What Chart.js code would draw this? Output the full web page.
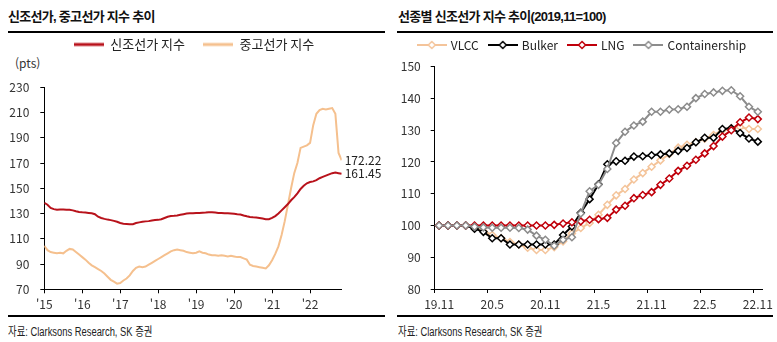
<!DOCTYPE html>
<html lang="ko">
<head>
<meta charset="utf-8">
<script src="https://cdn.jsdelivr.net/npm/chart.js@4.4.1/dist/chart.umd.min.js"></script>
<style>
    html, body { margin: 0; padding: 0; background: #fff; }
    #page { position: relative; width: 777px; height: 342px; overflow: hidden; color: #222;
            font-family: 'Noto Sans CJK KR', sans-serif; }
    .title { position: absolute; top: 7px; line-height: 20px; font-size: 13px; font-weight: bold; white-space: nowrap;
             letter-spacing: -0.7px; font-family: 'Liberation Sans', 'Noto Sans CJK KR', sans-serif; color: #111; }
    .title .num { letter-spacing: -0.7px; }
    .rule { position: absolute; height: 2px; background: #000; }
    .source { position: absolute; top: 324px; line-height: 16px; font-size: 12.5px; white-space: nowrap;
              transform: scaleX(0.75); transform-origin: left center;
              font-family: 'Liberation Sans', 'Noto Sans CJK KR', sans-serif; color: #222; }
    .unit { position: absolute; left: 15px; top: 56px; line-height: 14px; font-size: 12px; color: #333; }
    canvas { position: absolute; }
</style>
</head>
<body>
<div id="page">
    <div class="title" style="left: 8px;">신조선가, 중고선가 지수 추이</div>
    <div class="rule" style="left: 8px; top: 31px; width: 377px;"></div>
    <div class="title" style="left: 398px;">선종별 신조선가 지수 추이<span class="num">(2019,11=100)</span></div>
    <div class="rule" style="left: 397px; top: 31px; width: 376px;"></div>

    <div class="unit">(pts)</div>
    <canvas id="priceChart" width="388" height="294" style="left: 0; top: 20px;"></canvas>
    <canvas id="typeChart" width="389" height="286" style="left: 388px; top: 28px;"></canvas>

    <div class="rule" style="left: 8px; top: 315px; width: 377px;"></div>
    <div class="rule" style="left: 397px; top: 315px; width: 376px;"></div>
    <div class="source" style="left: 8px;">자료: Clarksons Research, SK 증권</div>
    <div class="source" style="left: 398px;">자료: Clarksons Research, SK 증권</div>
</div>

<script>
    // Left chart: monthly index, Jan 2015 .. Nov 2022
    const startYear = 2015;
    const yearLabels = ["'15", "'16", "'17", "'18", "'19", "'20", "'21", "'22"];
    const newbuildIndex = [
        138.5, 137, 134.5, 133.5, 133, 133.2, 133.2, 133, 133, 132.5, 131.8, 131.3,
        131, 130.8, 130.5, 130.2, 129.5, 127.5, 126.5, 125.8, 125.2, 124.8, 124.2, 123.5,
        122.5, 122, 121.8, 121.5, 121.5, 122.5, 123, 123.5, 123.8, 124, 124.5, 124.8,
        125, 125.5, 126.5, 127.5, 128, 128.2, 128.5, 129, 129.5, 130, 130.2, 130.3,
        130.5, 130.5, 130.7, 130.8, 131, 131, 130.8, 130.5, 130.5, 130.3, 130.2, 130,
        129.8, 129.5, 129.3, 128.5, 127.8, 127.3, 127, 126.8, 126.5, 126, 125.5, 125.5,
        126.5, 128, 130, 132.5, 135, 137.5, 140.5, 143, 146, 149.5, 152, 154,
        155, 155.5, 156.5, 158, 159, 160, 161, 162, 162.5, 162, 161.45
    ];
    const secondhandIndex = [
        104.5, 101, 99.5, 99, 98.5, 99, 98.5, 100.5, 102, 101.5, 99.5, 97.5,
        95.5, 93.5, 91, 89, 87.5, 86, 84.5, 82.5, 80, 77.5, 76, 74.5,
        75, 77, 78.5, 81, 84.5, 87, 88, 87.5, 88, 89.5, 91, 92.5,
        94, 95.5, 97, 98.5, 100, 101, 101.5, 101, 100.5, 99.5, 99, 98.5,
        99, 100, 99, 98.5, 97.5, 97, 97, 96.5, 97, 96.5, 96, 96.5,
        96, 95.5, 95.5, 94.5, 93.5, 89.5, 88.5, 88, 87.5, 87, 86.5, 89,
        93, 98, 104, 113, 124, 137, 150, 162, 170, 182, 183, 184,
        186, 200, 209, 212, 213, 212.5, 213, 213.5, 209, 178, 172.22
    ];

    // Right chart: by ship type, 2019.11 = 100
    const monthLabels = [
        '19.11', '19.12',
        '20.1', '20.2', '20.3', '20.4', '20.5', '20.6', '20.7', '20.8', '20.9', '20.10', '20.11', '20.12',
        '21.1', '21.2', '21.3', '21.4', '21.5', '21.6', '21.7', '21.8', '21.9', '21.10', '21.11', '21.12',
        '22.1', '22.2', '22.3', '22.4', '22.5', '22.6', '22.7', '22.8', '22.9', '22.10', '22.11'
    ];
    const vlcc = [
        100, 100, 100, 100, 99.5, 98.3, 97, 96, 94.8, 94, 93, 92.3, 92.3, 93.2, 95, 97.5, 99.2, 100.8,
        103.4, 106.5, 109.5, 111.5, 114.5, 116.5, 118.5, 120.5, 122.5, 124.5, 125.4, 126.2, 127.3,
        128.5, 130, 130.6, 131, 130.4, 130.4
    ];
    const bulker = [
        100, 100, 100, 100, 99, 98, 96, 96, 94, 94, 94, 94, 94, 94, 97, 99.7, 104, 108.3,
        113, 119.3, 120.2, 120.4, 121.7, 121.8, 122.1, 122.4, 122.7, 123.5, 124.4, 126.2, 127.6,
        127.6, 130.4, 130.6, 129.1, 127.4, 126.4
    ];
    const lng = [
        100, 100, 100, 100, 100, 100, 100, 100, 100, 100, 100, 100, 100, 100.2, 100.6, 101, 101.3, 101.8,
        102, 102.4, 105, 106.2, 108.6, 109.6, 110.5, 112.8, 114.8, 117.2, 118.8, 120.7, 122.7,
        125, 128, 130, 132.5, 134, 133.5
    ];
    const containership = [
        100, 100, 100, 100, 99.6, 99.4, 99.3, 99.3, 99.3, 99.2, 98.7, 96.8, 95.5, 93.6, 95.5, 96.3, 103.8, 110.8,
        112.8, 117.8, 126, 129.5, 131.5, 132.7, 135.8, 135.8, 136.5, 136.6, 137.4, 140.1, 141.4,
        141.9, 142.4, 142.6, 140.7, 137.4, 135.8
    ];

    const COLORS = {
        newbuild: '#B8121B',
        secondhand: '#F5C08E',
        vlcc: '#F4C49A',
        bulker: '#000000',
        lng: '#C0000B',
        containership: '#8C8C8C'
    };

    Chart.defaults.font.family = "'Noto Sans CJK KR', sans-serif";
    Chart.defaults.font.size = 12;
    Chart.defaults.color = '#333';

    // small canvas used as the legend sample (line, optional diamond)
    function legendIcon(color, width, lineWidth, withMarker) {
        const c = document.createElement('canvas');
        c.width = width;
        c.height = 10;
        const g = c.getContext('2d');
        g.strokeStyle = color;
        g.lineWidth = lineWidth;
        g.beginPath();
        g.moveTo(0, 5);
        g.lineTo(width, 5);
        g.stroke();
        if (withMarker) {
            const m = width / 2;
            g.fillStyle = '#fff';
            g.lineWidth = 1.5;
            g.beginPath();
            g.moveTo(m, 1.5);
            g.lineTo(m + 3.5, 5);
            g.lineTo(m, 8.5);
            g.lineTo(m - 3.5, 5);
            g.closePath();
            g.fill();
            g.stroke();
        }
        return c;
    }

    function withIcons(icons) {
        return chart => Chart.defaults.plugins.legend.labels.generateLabels(chart)
            .map(item => Object.assign(item, { pointStyle: icons[item.datasetIndex] }));
    }

    const toPoints = values => values.map((v, i) => ({ x: startYear + i / 12, y: v }));
    const last = arr => arr[arr.length - 1];

    // Left: 신조선가 / 중고선가 지수
    new Chart(document.getElementById('priceChart'), {
        type: 'line',
        data: {
            datasets: [
                { label: '신조선가 지수', data: toPoints(newbuildIndex), borderColor: COLORS.newbuild, borderWidth: 2, pointRadius: 0 },
                { label: '중고선가 지수', data: toPoints(secondhandIndex), borderColor: COLORS.secondhand, borderWidth: 2, pointRadius: 0 }
            ]
        },
        options: {
            responsive: false,
            animation: false,
            events: [],
            plugins: {
                legend: {
                    labels: {
                        usePointStyle: true,
                        pointStyleWidth: 30,
                        padding: 18,
                        color: '#222',
                        font: { size: 13 },
                        generateLabels: withIcons([
                            legendIcon(COLORS.newbuild, 30, 3, false),
                            legendIcon(COLORS.secondhand, 30, 3, false)
                        ])
                    }
                },
                subtitle: { display: true, text: '', weight: 500, font: { size: 1, lineHeight: 1 }, padding: { top: 25.3, bottom: 0 } },
                tooltip: { enabled: false }
            },
            scales: {
                x: {
                    type: 'linear',
                    min: startYear,
                    max: startYear + (newbuildIndex.length - 1) / 12,
                    border: { color: '#000' },
                    grid: { drawOnChartArea: false, tickLength: 4, tickColor: '#000' },
                    ticks: {
                        stepSize: 1,
                        includeBounds: false,
                        padding: 4,
                        callback: v => yearLabels[Math.round(v - startYear)]
                    },
                    afterFit: s => { s.height = 24.7; }
                },
                y: {
                    min: 70,
                    max: 230,
                    border: { color: '#000' },
                    grid: { drawOnChartArea: false, tickLength: 4, tickColor: '#000' },
                    ticks: { stepSize: 20, padding: 11 },
                    afterFit: s => { s.width = 44.3; }
                },
                yEnd: {
                    type: 'linear',
                    display: true,
                    position: 'right',
                    min: 70,
                    max: 230,
                    border: { display: false },
                    grid: { display: false, drawTicks: false },
                    ticks: { autoSkip: false, padding: 3, color: '#222', callback: v => v.toFixed(2) },
                    afterBuildTicks: s => { s.ticks = [{ value: last(secondhandIndex) }, { value: last(newbuildIndex) }]; },
                    afterFit: s => { s.width = 46.3; }
                }
            }
        }
    });

    // Right: 선종별 신조선가 지수
    const series = [
        { label: 'VLCC', data: vlcc, color: COLORS.vlcc, order: 4 },
        { label: 'Bulker', data: bulker, color: COLORS.bulker, order: 3 },
        { label: 'LNG', data: lng, color: COLORS.lng, order: 2 },
        { label: 'Containership', data: containership, color: COLORS.containership, order: 1 }
    ];

    new Chart(document.getElementById('typeChart'), {
        type: 'line',
        data: {
            labels: monthLabels,
            datasets: series.map(s => ({
                label: s.label,
                data: s.data,
                order: s.order,
                borderColor: s.color,
                borderWidth: 2,
                pointStyle: 'rectRot',
                pointRadius: 3.5,
                pointBorderWidth: 1.5,
                pointBorderColor: s.color,
                pointBackgroundColor: '#fff'
            }))
        },
        options: {
            responsive: false,
            animation: false,
            events: [],
            plugins: {
                legend: {
                    labels: {
                        usePointStyle: true,
                        pointStyleWidth: 26,
                        padding: 11,
                        color: '#222',
                        font: { size: 12 },
                        sort: (a, b) => a.datasetIndex - b.datasetIndex,
                        generateLabels: withIcons(series.map(s => legendIcon(s.color, 30, 2, true)))
                    }
                },
                subtitle: { display: true, text: '', weight: 500, font: { size: 1, lineHeight: 1 }, padding: { top: 4.7, bottom: 0 } },
                tooltip: { enabled: false }
            },
            scales: {
                x: {
                    type: 'category',
                    offset: true,
                    border: { color: '#000' },
                    grid: {
                        offset: true,
                        drawOnChartArea: false,
                        tickLength: 4,
                        tickColor: ctx => (ctx.index % 6 === 0 ? '#000' : 'rgba(0,0,0,0)')
                    },
                    ticks: {
                        autoSkip: false,
                        maxRotation: 0,
                        padding: 4,
                        callback: function (value, index) {
                            return index % 6 === 0 ? this.getLabelForValue(value) : '';
                        }
                    },
                    afterFit: s => { s.height = 25; }
                },
                y: {
                    min: 80,
                    max: 150,
                    border: { color: '#000' },
                    grid: { drawOnChartArea: false, tickLength: 4, tickColor: '#000' },
                    ticks: { stepSize: 10, padding: 10 },
                    afterFit: s => { s.width = 46.7; }
                },
                ySpace: {
                    type: 'linear',
                    display: true,
                    position: 'right',
                    border: { display: false },
                    grid: { display: false, drawTicks: false },
                    ticks: { display: false },
                    afterFit: s => { s.width = 13.4; }
                }
            }
        }
    });
</script>
</body>
</html>
